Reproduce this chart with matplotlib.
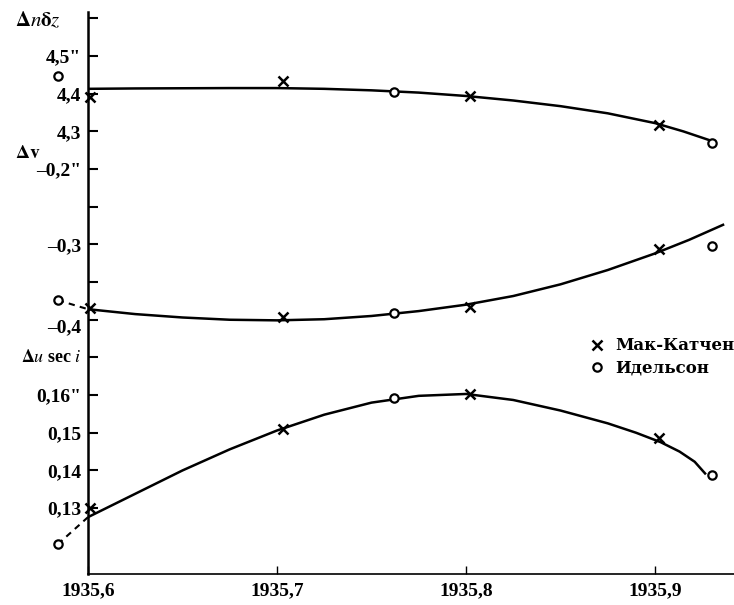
import matplotlib.pyplot as plt
from matplotlib.lines import Line2D

plt.rcParams['font.family'] = ['Liberation Serif', 'DejaVu Serif']
plt.rcParams['mathtext.fontset'] = 'stix'

# даты наблюдений
mk_years = [1935.601, 1935.703, 1935.802, 1935.902]   # Мак-Катчен
id_years = [1935.584, 1935.762, 1935.930]             # Идельсон

# Δnδz
dn_mk = [4.392, 4.435, 4.395, 4.317]
dn_id = [4.447, 4.404, 4.270]
dn_curve_x = [1935.600, 1935.625, 1935.650, 1935.675, 1935.700, 1935.725, 1935.750, 1935.775,
              1935.800, 1935.825, 1935.850, 1935.875, 1935.900, 1935.915, 1935.931]
dn_curve_y = [4.413, 4.414, 4.4145, 4.415, 4.415, 4.413, 4.409, 4.403,
              4.394, 4.382, 4.367, 4.348, 4.322, 4.300, 4.273]

# Δv
dv_mk = [-0.384, -0.397, -0.383, -0.306]
dv_id = [-0.374, -0.391, -0.302]
dv_curve_x = [1935.600, 1935.625, 1935.650, 1935.675, 1935.700, 1935.725, 1935.750, 1935.775,
              1935.800, 1935.825, 1935.850, 1935.875, 1935.900, 1935.918, 1935.936]
dv_curve_y = [-0.386, -0.3925, -0.397, -0.400, -0.4008, -0.3993, -0.395, -0.3885,
              -0.380, -0.3685, -0.353, -0.334, -0.312, -0.294, -0.274]

# Δu sec i
du_mk = [0.1300, 0.1510, 0.1602, 0.1487]
du_id = [0.1204, 0.1592, 0.1388]
du_curve_x = [1935.600, 1935.625, 1935.650, 1935.675, 1935.700, 1935.725, 1935.750, 1935.775,
              1935.800, 1935.825, 1935.850, 1935.875, 1935.890, 1935.903, 1935.913, 1935.921,
              1935.9265]
du_curve_y = [0.1276, 0.1338, 0.1400, 0.1456, 0.1506, 0.1548, 0.1580, 0.1598,
              0.1603, 0.1587, 0.1559, 0.1525, 0.1500, 0.1475, 0.1450, 0.1423,
              0.1392]

# три шкалы на одной оси: пересчёт в общие единицы (одно деление = 1)
def f_dn(v):
    return [10 + (a - 4.3) / 0.1 for a in v]


def f_dv(v):
    return [5 + (a + 0.4) / 0.05 for a in v]


def f_du(v):
    return [(a - 0.13) / 0.01 for a in v]


tick_pos = list(range(14))
tick_lab = ['0,13', '0,14', '0,15', '0,16"', '', '', '', '–0,3', '', '–0,2"',
            '4,3', '4,4', '4,5"', '']

fig = plt.figure(figsize=(7.34, 6.05), dpi=100)
ax = fig.add_axes([0.1199, 0.0512, 0.8801, 0.929])

lw = 1.8
mk_style = dict(ls='none', marker='x', ms=7, mew=1.8, color='black', clip_on=False, zorder=3)
id_style = dict(ls='none', marker='o', ms=6, mew=1.6, mfc='white', mec='black', clip_on=False, zorder=3)

for f, cx, cy, mk, idl in [(f_dn, dn_curve_x, dn_curve_y, dn_mk, dn_id),
                           (f_dv, dv_curve_x, dv_curve_y, dv_mk, dv_id),
                           (f_du, du_curve_x, du_curve_y, du_mk, du_id)]:
    ax.plot(cx, f(cy), 'k-', lw=lw, solid_joinstyle='round')
    ax.plot(mk_years, f(mk), **mk_style)
    ax.plot(id_years, f(idl), **id_style)

# пунктирные продолжения
ax.plot([id_years[0], dv_curve_x[0]], f_dv([dv_id[0], dv_curve_y[0]]), 'k--', lw=1.5,
        dashes=(3, 2.5), clip_on=False)
ax.plot([id_years[0], du_curve_x[0]], f_du([du_id[0], du_curve_y[0]]), 'k--', lw=1.5,
        dashes=(3, 2.5), clip_on=False)

ax.set_xlim(1935.6, 1935.9418)
ax.set_ylim(-1.75, 13.17)
ax.set_xticks([1935.6, 1935.7, 1935.8, 1935.9])
ax.set_xticklabels(['1935,6', '1935,7', '1935,8', '1935,9'])
ax.set_yticks(tick_pos)
ax.set_yticklabels(tick_lab)

ax.spines['top'].set_visible(False)
ax.spines['right'].set_visible(False)
ax.spines['left'].set_linewidth(1.8)
ax.spines['bottom'].set_linewidth(1.2)
ax.tick_params(axis='y', direction='in', length=7, width=1.5, pad=5, labelsize=14)
ax.tick_params(axis='x', direction='in', length=6, width=1.0, pad=6, labelsize=14)
for t in ax.get_xticklabels() + ax.get_yticklabels():
    t.set_fontweight('bold')

ytr = ax.get_yaxis_transform()
ax.text(-0.01, f_dv([-0.4])[0] - 0.2, '–0,4', transform=ytr,
        ha='right', va='center', fontsize=14, fontweight='bold')
ax.text(-0.113, 12.93, r'$\mathbf{\Delta}\mathit{n}\mathbf{\delta}\mathit{z}$', transform=ytr,
        ha='left', va='center', fontsize=15)
ax.text(-0.113, 9.40, r'$\mathbf{\Delta v}$', transform=ytr,
        ha='left', va='center', fontsize=14)
ax.text(-0.0095, 4.0, r'$\mathbf{\Delta}\mathit{u}$ sec $\mathit{i}$', transform=ytr,
        ha='right', va='center', fontsize=13, fontweight='bold')

handles = [Line2D([], [], marker='x', ls='none', ms=7, mew=1.8, color='black'),
           Line2D([], [], marker='o', ls='none', ms=6, mew=1.6, mfc='white', mec='black')]
ax.legend(handles, ['Мак-Катчен', 'Идельсон'], frameon=False, loc='upper left',
          bbox_to_anchor=(580 / 734, 1 - 329 / 605), bbox_transform=fig.transFigure,
          handlelength=1.0, handletextpad=0.6, borderpad=0, labelspacing=0.3,
          prop={'family': 'DejaVu Serif', 'size': 12, 'weight': 'bold'})

fig.savefig('out.png', dpi=100)
